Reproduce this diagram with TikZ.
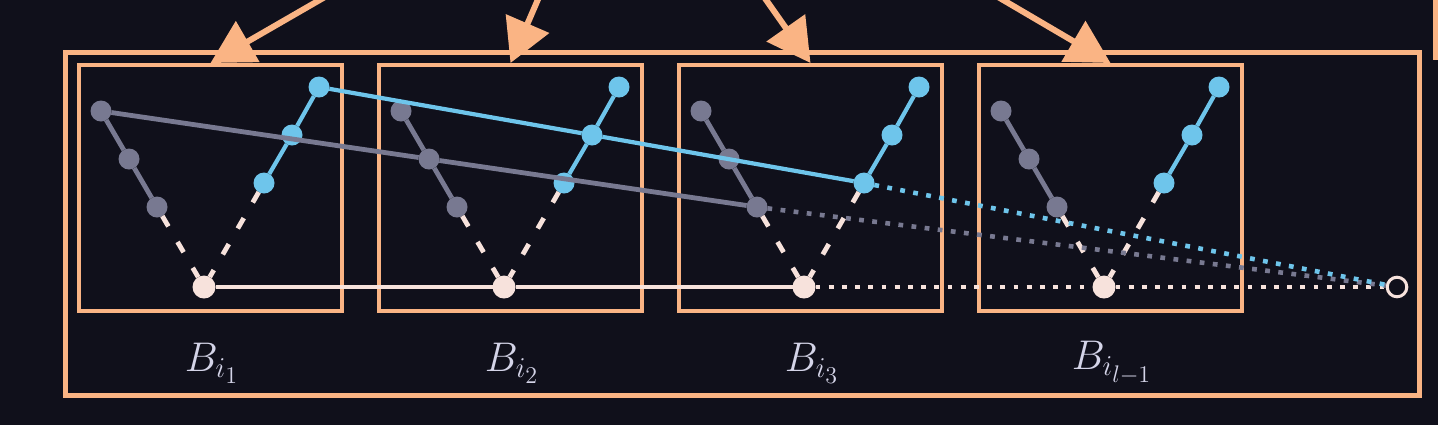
\documentclass[tikz,border=0pt]{standalone}
\usetikzlibrary{arrows.meta}
\begin{document}
\begin{tikzpicture}[x=0.5pt,y=-0.5pt,
    greynode/.style={circle,fill=kGrey,inner sep=0pt,outer sep=0pt,minimum size=10.5pt},
    bluenode/.style={circle,fill=kBlue,inner sep=0pt,outer sep=0pt,minimum size=10.5pt},
    whitenode/.style={circle,fill=kWhite,inner sep=0pt,outer sep=0pt,minimum size=11.5pt},
    endnode/.style={circle,draw=kWhite,fill=kBg,line width=1.5pt,inner sep=0pt,minimum size=9.8pt},
    blockbox/.style={draw=kOrange,line width=1.8pt,inner sep=0pt,minimum width=131.7pt,minimum height=123.2pt},
    outerbox/.style={draw=kOrange,line width=2.5pt},
    feed/.style={draw=kOrange,line width=3pt,-{Triangle[length=21.5pt,width=23pt]}},
    greyline/.style={draw=kGrey,line width=2.4pt},
    blueline/.style={draw=kBlue,line width=2.1pt},
    whiteline/.style={draw=kWhite,line width=2.3pt},
    armline/.style={draw=kWhite,line width=2.4pt,dash pattern=on 6pt off 9pt},
    trail/.style={line width=2.3pt,dash pattern=on 2.4pt off 4.2pt},
    blocklabel/.style={text=kLabel,font=\fontsize{20.74}{25}\selectfont}]
  % colors
  \definecolor{kBg}{RGB}{16,16,27}
  \definecolor{kOrange}{RGB}{250,180,132}
  \definecolor{kGrey}{RGB}{120,121,145}
  \definecolor{kBlue}{RGB}{110,197,235}
  \definecolor{kWhite}{RGB}{247,226,220}
  \definecolor{kLabel}{RGB}{212,212,232}
  % frame
  \useasboundingbox (0,0) rectangle (1438,425);
  \fill[kBg] (0,0) rectangle (1438,425);
  \draw[outerbox] (65.5,52.5) rectangle (1419.5,395.5);
  \draw[outerbox] (1435.5,57) rectangle (1540,-40);
  % blocks
  \foreach \i/\L/\sub in {1/77/1, 2/377/2, 3/677/3, 4/977/{l-1}} {
    \node[blockbox] (box\i) at (\L+133.5,188) {};
    \node[greynode] (g\i-1) at (\L+24,111) {};
    \node[greynode] (g\i-2) at (\L+52,159) {};
    \node[greynode] (g\i-3) at (\L+80,207) {};
    \node[whitenode] (w\i) at (\L+127,287) {};
    \node[bluenode] (b\i-1) at (\L+187,183) {};
    \node[bluenode] (b\i-2) at (\L+215,135) {};
    \node[bluenode] (b\i-3) at (\L+242,87) {};
    \draw[greyline] (g\i-1) -- (g\i-2) -- (g\i-3);
    \draw[blueline] (b\i-1) -- (b\i-2) -- (b\i-3);
    \draw[armline] (g\i-3) -- (w\i);
    \draw[armline] (b\i-1) -- (w\i);
    \node[blocklabel] (lab\i) at (\L+135,363) {$B_{i_{\sub}}$};
  }
  \node[endnode] (end) at (1397,287) {};
  % incoming arrows
  \coordinate (s1) at (389,-40);
  \coordinate (s2) at (555,-40);
  \coordinate (s3) at (738,-40);
  \coordinate (s4) at (935,-40);
  \foreach \i in {1,...,4}
    \draw[feed] (s\i) -- (box\i.north);
  % paths across blocks
  \draw[whiteline] (w1) -- (w2) -- (w3);
  \draw[greyline] (g1-1) -- (g2-2) -- (g3-3);
  \draw[blueline] (b1-3) -- (b2-2) -- (b3-1);
  \draw[trail,draw=kWhite] (w3) -- (w4) -- (end);
  \draw[trail,draw=kGrey] (g3-3) -- (end);
  \draw[trail,draw=kBlue] (b3-1) -- (end);
\end{tikzpicture}
\end{document}
